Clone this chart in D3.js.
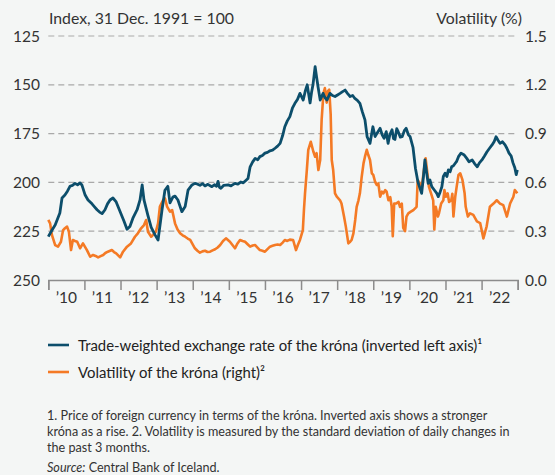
<!DOCTYPE html>
<html>
<head>
<meta charset="utf-8">
<script src="https://cdn.jsdelivr.net/npm/d3@7"></script>
<style>
  html, body { margin: 0; padding: 0; background: #f4f6f5; }
  svg { display: block; font-family: Lato, "Open Sans", sans-serif; }
</style>
</head>
<body>
<div id="chart"></div>
<script>

// exchange rate index (inverted left axis), decimal year / value
var rateYears = [2010.00, 2010.10, 2010.19, 2010.32, 2010.38, 2010.46, 2010.53, 2010.60, 2010.67, 2010.74, 2010.81, 2010.88, 2010.93,
  2011.02, 2011.10, 2011.21, 2011.28, 2011.35, 2011.42, 2011.49, 2011.57, 2011.64, 2011.71, 2011.79, 2011.88, 2011.99,
  2012.10, 2012.18, 2012.26, 2012.35, 2012.46, 2012.54, 2012.60, 2012.65, 2012.76, 2012.85, 2012.96, 2013.04,
  2013.15, 2013.23, 2013.31, 2013.37, 2013.45, 2013.51, 2013.59, 2013.70, 2013.79, 2013.87, 2013.98,
  2014.06, 2014.12, 2014.20, 2014.27, 2014.34, 2014.42, 2014.53, 2014.60, 2014.66, 2014.70, 2014.74, 2014.78, 2014.86, 2014.98,
  2015.06, 2015.17, 2015.25, 2015.33, 2015.40, 2015.47, 2015.53, 2015.59, 2015.66, 2015.73, 2015.80, 2015.86, 2015.93,
  2016.00, 2016.07, 2016.14, 2016.21, 2016.28, 2016.35, 2016.42, 2016.49, 2016.55, 2016.62, 2016.69, 2016.76, 2016.83, 2016.90, 2016.97,
  2017.06, 2017.12, 2017.17, 2017.25, 2017.29, 2017.33, 2017.39, 2017.43, 2017.47, 2017.53, 2017.61, 2017.66, 2017.72, 2017.80, 2017.87, 2017.94,
  2018.01, 2018.08, 2018.15, 2018.22, 2018.29, 2018.36, 2018.43, 2018.49, 2018.56, 2018.63, 2018.70, 2018.77, 2018.83, 2018.91, 2018.99,
  2019.05, 2019.10, 2019.19, 2019.25, 2019.30, 2019.36, 2019.41, 2019.46, 2019.52, 2019.56, 2019.60, 2019.65, 2019.69, 2019.75, 2019.80, 2019.86, 2019.91, 2019.97, 2020.02,
  2020.10, 2020.17, 2020.24, 2020.34, 2020.39, 2020.43, 2020.48, 2020.52, 2020.57, 2020.62, 2020.69, 2020.76, 2020.80, 2020.85, 2020.90, 2020.94, 2020.99,
  2021.04, 2021.08, 2021.13, 2021.17, 2021.22, 2021.27, 2021.31, 2021.36, 2021.43, 2021.52, 2021.59, 2021.65, 2021.74, 2021.81, 2021.88, 2021.94,
  2022.01, 2022.08, 2022.15, 2022.22, 2022.29, 2022.35, 2022.40, 2022.46, 2022.51, 2022.58, 2022.65, 2022.70, 2022.76, 2022.82, 2022.87, 2022.92, 2022.96, 2022.99];
var rateIndex = [227.8, 224.5, 221.8, 215.7, 208, 206.5, 204.5, 202, 201.5, 200.5, 201.2, 200.3, 201.3,
  206.5, 209, 211, 212.5, 214, 215.2, 216, 214, 211, 209, 208, 210, 215,
  220, 224, 222.6, 218, 214, 209, 201.3, 209, 217, 223, 227, 229.5,
  214, 204, 202, 210.5, 207.5, 207, 209, 215, 212.4, 204, 201.3,
  200.5, 200.8, 201.5, 200.6, 201.8, 201, 202.2, 201.2, 202, 199.5, 202.5, 203, 201.5, 201.3,
  201.8, 200.5, 200.9, 199.8, 200.2, 199, 198, 192, 189.5, 187.7, 188.4, 186.8, 186.2,
  185, 184.6, 183.8, 183.5, 182.5, 181.4, 180, 176, 171.5, 168.5, 166.3, 162, 159.5, 157.5, 154.4,
  157.8, 153, 150, 159.3, 154, 150, 140.7, 146, 151, 157.8, 154.4, 156.5, 157.8, 154.4, 155.5, 156,
  155.2, 154.4, 153.5, 152.7, 154.5, 156, 155.5, 157, 158, 159.5, 164, 168, 176.6, 180, 171.5,
  176.5, 175, 172.3, 175.8, 177.4, 174, 180, 175.5, 173, 177.5, 178, 172.5, 174, 176.8, 176.6, 173.5, 172.3, 175.5, 176.6,
  182, 193, 200, 205.6, 197, 188.5, 195.3, 200.5, 198.8, 202.2, 203.9, 205.6, 207.3, 205, 202.2, 197, 195.3,
  197, 193.6, 194.5, 192, 191.5, 190.2, 189.2, 186.8, 185, 186, 187.7, 189.4, 188.5, 190.5, 192, 190,
  188.5, 186.5, 184.3, 182.5, 180.8, 179, 176.6, 178.5, 180, 179.2, 180.8, 182.5, 185, 186.5, 190, 192.5, 196, 193.6];

// volatility of the krona (right axis, %)
var volYears = [2010.00, 2010.05, 2010.10, 2010.19, 2010.27, 2010.35, 2010.41, 2010.46, 2010.52, 2010.57, 2010.63, 2010.68, 2010.74, 2010.80, 2010.88, 2010.96,
  2011.07, 2011.16, 2011.24, 2011.31, 2011.38, 2011.45, 2011.52, 2011.58, 2011.65, 2011.76, 2011.82, 2011.88, 2011.99,
  2012.07, 2012.18, 2012.29, 2012.40, 2012.48, 2012.57, 2012.65, 2012.71, 2012.76, 2012.85, 2012.90, 2012.98, 2013.04,
  2013.09, 2013.18, 2013.23, 2013.29, 2013.37, 2013.43, 2013.51, 2013.58, 2013.65, 2013.72, 2013.79, 2013.86, 2013.93,
  2014.06, 2014.13, 2014.20, 2014.27, 2014.34, 2014.41, 2014.48, 2014.55, 2014.62, 2014.69, 2014.76, 2014.84, 2014.92, 2015.03,
  2015.10, 2015.17, 2015.24, 2015.31, 2015.38, 2015.45, 2015.52, 2015.59, 2015.66, 2015.73, 2015.80, 2015.86, 2015.93,
  2016.00, 2016.07, 2016.14, 2016.21, 2016.28, 2016.35, 2016.42, 2016.49, 2016.55, 2016.62, 2016.69, 2016.78, 2016.86, 2016.92, 2016.97,
  2017.05, 2017.08, 2017.11, 2017.16, 2017.20, 2017.27, 2017.34, 2017.39, 2017.43, 2017.48, 2017.53, 2017.57, 2017.62, 2017.66,
  2017.71, 2017.74, 2017.78, 2017.82, 2017.85, 2017.89, 2017.94, 2017.99, 2018.08, 2018.12, 2018.19, 2018.24, 2018.31,
  2018.36, 2018.40, 2018.45, 2018.50, 2018.54, 2018.59, 2018.63, 2018.68, 2018.73, 2018.77, 2018.82, 2018.86, 2018.91, 2018.96,
  2019.00, 2019.05, 2019.10, 2019.14, 2019.19, 2019.24, 2019.28, 2019.33, 2019.37, 2019.42, 2019.47, 2019.51, 2019.54, 2019.58,
  2019.63, 2019.70, 2019.74, 2019.79, 2019.83, 2019.88, 2019.92, 2019.97, 2020.04, 2020.11, 2020.20,
  2020.23, 2020.29, 2020.34, 2020.39, 2020.45, 2020.51, 2020.54, 2020.60, 2020.66, 2020.69, 2020.73, 2020.79, 2020.82, 2020.88, 2020.94, 2020.97,
  2021.01, 2021.06, 2021.10, 2021.16, 2021.19, 2021.22, 2021.27, 2021.31, 2021.36, 2021.41, 2021.47, 2021.53, 2021.56, 2021.62, 2021.68,
  2021.77, 2021.87, 2021.96, 2022.05, 2022.14, 2022.23, 2022.33, 2022.42, 2022.51, 2022.60, 2022.70, 2022.79, 2022.88, 2022.92, 2022.99];
var volPct = [0.369, 0.348, 0.277, 0.215, 0.205, 0.235, 0.307, 0.318, 0.328, 0.297, 0.184, 0.246, 0.24, 0.235, 0.195, 0.225,
  0.184, 0.143, 0.154, 0.148, 0.139, 0.147, 0.154, 0.166, 0.174, 0.184, 0.172, 0.164, 0.139,
  0.174, 0.205, 0.225, 0.266, 0.287, 0.318, 0.338, 0.369, 0.297, 0.266, 0.277, 0.297, 0.348,
  0.451, 0.492, 0.502, 0.451, 0.42, 0.43, 0.348, 0.31, 0.287, 0.275, 0.266, 0.255, 0.246,
  0.195, 0.18, 0.168, 0.176, 0.18, 0.172, 0.174, 0.182, 0.189, 0.2, 0.215, 0.24, 0.256, 0.235,
  0.215, 0.195, 0.225, 0.246, 0.24, 0.235, 0.22, 0.205, 0.212, 0.215, 0.198, 0.184, 0.18,
  0.174, 0.19, 0.205, 0.21, 0.215, 0.218, 0.215, 0.23, 0.246, 0.24, 0.248, 0.246, 0.184, 0.22, 0.246,
  0.307, 0.43, 0.533, 0.676, 0.80, 0.85, 0.79, 0.758, 0.78, 0.676, 0.738, 0.984, 1.148, 1.18,
  1.09, 1.16, 1.17, 1.02, 0.738, 0.676, 0.533, 0.512, 0.49, 0.47, 0.39, 0.328, 0.225,
  0.235, 0.246, 0.287, 0.369, 0.45, 0.49, 0.533, 0.635, 0.717, 0.758, 0.80, 0.77, 0.738, 0.656,
  0.646, 0.604, 0.584, 0.594, 0.512, 0.543, 0.533, 0.553, 0.543, 0.49, 0.51, 0.45, 0.27, 0.47,
  0.47, 0.48, 0.45, 0.47, 0.32, 0.30, 0.39, 0.41, 0.42, 0.43, 0.45,
  0.615, 0.594, 0.564, 0.656, 0.748, 0.635, 0.574, 0.533, 0.49, 0.31, 0.45, 0.39, 0.41, 0.47, 0.49, 0.553,
  0.512, 0.533, 0.48, 0.49, 0.53, 0.39, 0.512, 0.574, 0.646, 0.656, 0.615, 0.533, 0.45, 0.39, 0.41,
  0.40, 0.36, 0.35, 0.256, 0.33, 0.45, 0.47, 0.49, 0.47, 0.46, 0.39, 0.47, 0.512, 0.553, 0.533];

var leftTicks = [125, 150, 175, 200, 225, 250];
var rightTicks = [0.0, 0.3, 0.6, 0.9, 1.2, 1.5];
var yearTicks = [2010, 2011, 2012, 2013, 2014, 2015, 2016, 2017, 2018, 2019, 2020, 2021, 2022, 2023];
var yearLabels = ["’10", "’11", "’12", "’13", "’14", "’15", "’16", "’17", "’18", "’19", "’20", "’21", "’22"];

var width = 555, height = 475;
var blue = "#0c4e6b", orange = "#f47a25";

var svg = d3.select("#chart").append("svg")
    .attr("width", width)
    .attr("height", height);

var x = d3.scaleLinear().domain([2010, 2023]).range([48.3, 517.7]);
var yLeft = d3.scaleLinear().domain([125, 250]).range([36, 280]);
var yRight = d3.scaleLinear().domain([0, 1.5]).range([280, 36]);

// grid lines
svg.append("g")
    .selectAll("line")
    .data(leftTicks.slice(0, 5))
    .enter().append("line")
    .attr("x1", x(2010))
    .attr("x2", x(2023) - 2)
    .attr("y1", function(d) { return yLeft(d); })
    .attr("y2", function(d) { return yLeft(d); })
    .attr("stroke", "#a9a9a9")
    .attr("stroke-width", 1.2)
    .attr("stroke-dasharray", "6,4");

// left axis labels
svg.append("g")
    .selectAll("text")
    .data(leftTicks)
    .enter().append("text")
    .attr("x", 40)
    .attr("y", function(d) { return yLeft(d) + 5.5; })
    .attr("text-anchor", "end")
    .attr("font-size", 15.5)
    .attr("fill", "#333")
    .text(function(d) { return d; });

// right axis labels
svg.append("g")
    .selectAll("text")
    .data(rightTicks)
    .enter().append("text")
    .attr("x", 525)
    .attr("y", function(d) { return yRight(d) + 5.5; })
    .attr("text-anchor", "start")
    .attr("font-size", 15.5)
    .attr("fill", "#333")
    .text(function(d) { return d.toFixed(1); });

// x axis
var xAxis = d3.axisBottom(x)
    .tickValues(yearTicks)
    .tickSize(10)
    .tickFormat("");

var gx = svg.append("g")
    .attr("transform", "translate(0," + yLeft(250) + ")")
    .call(xAxis);
gx.select(".domain").attr("stroke", "#8c8c8c").attr("stroke-width", 1.5);
gx.selectAll(".tick line").attr("stroke", "#8c8c8c").attr("stroke-width", 1.5);

svg.append("g")
    .selectAll("text")
    .data(yearLabels)
    .enter().append("text")
    .attr("x", function(d, i) { return (x(yearTicks[i]) + x(yearTicks[i + 1])) / 2; })
    .attr("y", 303)
    .attr("text-anchor", "middle")
    .attr("font-size", 15.5)
    .attr("fill", "#333")
    .text(function(d) { return d; });

// axis titles
svg.append("text")
    .attr("x", 49).attr("y", 24)
    .attr("font-size", 15.8).attr("fill", "#333")
    .text("Index, 31 Dec. 1991 = 100");
svg.append("text")
    .attr("x", 522).attr("y", 24)
    .attr("text-anchor", "end")
    .attr("font-size", 15.8).attr("fill", "#333")
    .text("Volatility (%)");

// series
var volLine = d3.line()
    .x(function(d, i) { return x(volYears[i]); })
    .y(function(d) { return yRight(d); });
var rateLine = d3.line()
    .x(function(d, i) { return x(rateYears[i]); })
    .y(function(d) { return yLeft(d); });

svg.append("path")
    .attr("d", volLine(volPct))
    .attr("fill", "none")
    .attr("stroke", orange)
    .attr("stroke-width", 2.6)
    .attr("stroke-linejoin", "round");

svg.append("path")
    .attr("d", rateLine(rateIndex))
    .attr("fill", "none")
    .attr("stroke", blue)
    .attr("stroke-width", 2.8)
    .attr("stroke-linejoin", "round");

// legend
var legend = [
  {label: "Trade-weighted exchange rate of the króna (inverted left axis)¹", color: blue},
  {label: "Volatility of the króna (right)²", color: orange}
];
var lg = svg.append("g")
    .selectAll("g")
    .data(legend)
    .enter().append("g")
    .attr("transform", function(d, i) { return "translate(0," + (345 + i * 27) + ")"; });
lg.append("line")
    .attr("x1", 48).attr("x2", 69)
    .attr("stroke", function(d) { return d.color; })
    .attr("stroke-width", 2.6);
lg.append("text")
    .attr("x", 78).attr("y", 5.5)
    .attr("font-size", 14.9).attr("fill", "#222")
    .text(function(d) { return d.label; });

// notes
var notes = [
  "1. Price of foreign currency in terms of the króna. Inverted axis shows a stronger",
  "króna as a rise. 2. Volatility is measured by the standard deviation of daily changes in",
  "the past 3 months."
];
svg.append("g")
    .selectAll("text")
    .data(notes)
    .enter().append("text")
    .attr("x", 47)
    .attr("y", function(d, i) { return 419.5 + i * 16; })
    .attr("font-size", 12.6)
    .attr("fill", "#333")
    .text(function(d) { return d; });

var src = svg.append("text")
    .attr("x", 47).attr("y", 471.5)
    .attr("font-size", 12.6).attr("fill", "#333");
src.append("tspan").attr("font-style", "italic").text("Source:");
src.append("tspan").text(" Central Bank of Iceland.");

</script>
</body>
</html>
